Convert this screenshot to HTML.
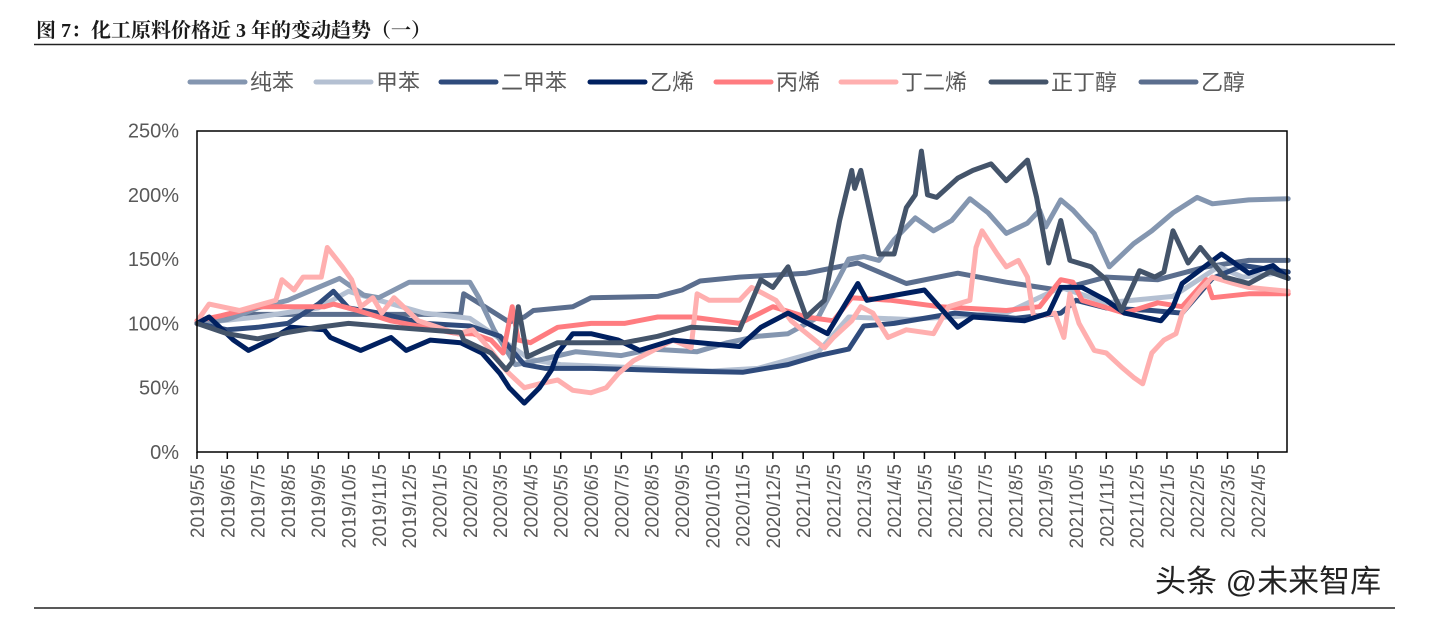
<!DOCTYPE html>
<html><head><meta charset="utf-8">
<style>
body{margin:0;background:#fff;width:1440px;height:615px;overflow:hidden;font-family:"Liberation Sans","Noto Sans CJK SC",sans-serif;}
</style></head><body>
<svg id="chart" width="1440" height="615" xmlns="http://www.w3.org/2000/svg">
<text x="36" y="37" font-size="20" font-weight="bold" fill="#1a1a1a" font-family="Liberation Serif, Noto Serif CJK SC, serif">图 7：化工原料价格近 3 年的变动趋势（一）</text>
<line x1="34" y1="44.5" x2="1395" y2="44.5" stroke="#222" stroke-width="1.5"/>
<line x1="34" y1="608" x2="1395" y2="608" stroke="#222" stroke-width="1.5"/>
<g id="legend"></g>
<g id="yaxis"></g>
<g id="xaxis"></g>
<g id="series"></g>
<rect x="197" y="131" width="1090" height="321" fill="none" stroke="#000" stroke-width="1.5"/>
<text x="1155" y="592" font-size="31" fill="#222" font-family="Liberation Sans, Noto Sans CJK SC, sans-serif">头条 @未来智库</text>
</svg>
<script>
const names=["纯苯","甲苯","二甲苯","乙烯","丙烯","丁二烯","正丁醇","乙醇"];
const colors=["#8496B0","#B4C0D2","#2F4B7C","#002060","#FF7C80","#FFAFAF","#44546A","#5B6E8E"];
const yTicks=[0,50,100,150,200,250];
const xLabels=[];
for(let i=0;i<36;i++){const y=2019+Math.floor((4+i)/12);const m=(4+i)%12+1;xLabels.push(y+"/"+m+"/5");}
// months since 2019/5/5
const m0=[0,1,2,3,4,4.7,5.5,6,7,9,9.3,9.8,10.5,11,12.5,14,15,16.5,17.5,18.5,19.5,20.5,21.5,22,22.5,23,23.7,24.3,24.9,25.5,26.1,26.7,27.4,27.8,28,28.5,28.9,29.6,30.1,30.9,31.5,32.2,33,33.5,34.7,36];
const v0=[100,103,112,118,128,135,122,120,132,132,120,95,68,70,78,75,80,78,85,90,92,105,150,152,149,165,182,172,180,197,186,170,178,188,175,196,188,170,144,162,172,186,198,193,196,197];
const m1=[0,2,4,5,6,7.5,9,10,11,12,14,17,18.5,20.5,21.5,23.5,26.7,28.5,30,32.2,33.7,34.5,36];
const v1=[100,105,112,125,118,108,104,88,72,68,66,63,65,78,105,103,108,128,116,121,144,136,140];
const m2=[0,1,2,3,4,4.5,5,6,7.5,9,10,10.8,11.5,13,16,18,19.5,20.5,21.5,22,23,25,27,28.5,29,30,31.5,32.5,33.5,34.5,36];
const v2=[100,95,97,100,115,125,112,108,100,98,90,68,65,65,63,62,68,75,80,98,100,108,104,108,118,112,110,108,135,145,140];
const m3=[0,0.4,1.2,1.7,2.4,3.1,4.2,4.4,5.4,6.4,6.9,7.7,8.7,9.4,10,10.3,10.8,11.3,11.7,11.9,12.4,13,13.9,14.6,15.7,16.6,17.9,18.6,19.5,20.8,21.8,22.1,24,25.1,25.6,27.3,28.1,28.5,29.2,30,30.6,31.8,32.2,32.5,33.8,34.7,35.5,36];
const v3=[100,105,87,79,87,97,95,89,79,89,79,87,85,77,61,50,38,50,64,77,92,92,87,79,87,85,82,97,108,92,131,118,126,97,105,102,108,128,128,118,108,102,113,131,154,139,145,135];
const m4=[0,0.8,2,4.2,4.5,5.3,6.4,7.5,8.6,9.1,9.7,10.1,10.4,10.6,11,11.9,13,14.1,15.2,16.3,17.9,19,20.1,21,21.6,22.9,24.5,26.7,27.8,28.5,28.9,29.2,30.6,31.7,32.5,33.3,33.5,34.7,36];
const v4=[102,106,113,113,115,110,102,97,92,92,87,77,113,87,85,97,100,100,105,105,100,113,105,102,120,118,113,110,113,134,132,118,108,116,113,134,120,123,123];
const m5=[0,0.1,0.4,1.4,2.6,2.8,3.2,3.5,4.1,4.3,4.8,5.1,5.4,5.8,6.1,6.5,7.3,8.6,9.1,9.7,10.1,10.3,10.8,11.3,11.9,12.4,13,13.5,13.9,14.4,15.7,16.3,16.5,16.9,17.9,18.3,19.1,19.6,20.7,21,21.6,21.9,22.3,22.8,23.4,24.3,24.8,25.5,25.7,25.9,26.4,26.7,27.1,27.4,27.6,28.3,28.6,28.8,29.1,29.6,30,30.5,30.9,31.2,31.5,31.9,32.3,32.5,33.1,33.5,34.2,34.7,36];
const v5=[100,105,115,110,118,134,126,136,136,159,144,134,113,120,108,120,102,92,95,79,66,61,50,53,56,48,46,50,61,71,87,81,123,118,118,128,118,102,81,89,102,113,108,89,95,92,113,118,159,172,154,144,149,136,105,108,89,123,100,79,77,66,58,53,77,87,92,108,126,136,131,128,125];
const m6=[0,1,2,3,4,5,7,8.7,8.8,9.7,10.2,10.4,10.6,10.9,11.9,14.1,15.2,16.3,17.9,18.6,19,19.5,20.1,20.7,21.2,21.6,21.7,21.9,22.5,23,23.4,23.7,23.9,24.1,24.4,25.1,25.6,26.2,26.7,27.4,27.7,28.1,28.5,28.8,29.5,30,30.5,31.1,31.6,31.9,32.2,32.7,33.1,33.9,34.7,35.4,36];
const v6=[100,92,88,93,97,100,96,93,87,77,64,70,113,74,85,85,90,97,95,134,128,144,105,118,180,219,205,219,154,154,190,200,234,200,198,213,219,224,211,227,198,147,180,149,144,134,110,141,136,140,172,147,159,136,131,140,135];
const m7=[0,1.1,8.7,8.8,9.5,10.3,10.8,11.1,12.4,13,15.2,16,16.6,17.9,20.1,21.8,23.4,25.1,26.7,28.4,30,31.7,33.3,34.7,36];
const v7=[100,107,107,123,113,101,105,110,113,120,121,126,133,136,139,147,131,139,132,126,136,134,144,149,149];
const allM=[m0,m1,m2,m3,m4,m5,m6,m7], allV=[v0,v1,v2,v3,v4,v5,v6,v7];
const NS="http://www.w3.org/2000/svg";
const X0=197, MW=30.31, Y0=452, PY=1.286;
const xs=m=>X0+m*MW, ys=v=>Y0-v*PY;
function mk(t,a,p){const e=document.createElementNS(NS,t);for(const k in a)e.setAttribute(k,a[k]);p.appendChild(e);return e;}
const fam="Liberation Sans, Noto Sans CJK SC, sans-serif";
// y axis
const ya=document.getElementById("yaxis");
yTicks.forEach(t=>{const e=mk("text",{x:179,y:ys(t)+7,"font-size":20,fill:"#595959","text-anchor":"end","font-family":fam},ya);e.textContent=t+"%";

});
// x axis
const xa=document.getElementById("xaxis");
xLabels.forEach((l,i)=>{const x=xs(i);
const tk=mk("line",{x1:x,y1:452,x2:x,y2:459,stroke:"#000","stroke-width":1.5},xa);


const e=mk("text",{transform:`translate(${x+7},${464}) rotate(-90)`,"font-size":19,fill:"#595959","text-anchor":"end","font-family":fam},xa);e.textContent=l;

});
// series
const sg=document.getElementById("series");
const order=[7,1,0,2,4,5,3,6];
order.forEach(s=>{const d=allM[s].map((m,i)=>(i?"L":"M")+xs(m).toFixed(1)+","+ys(allV[s][i]).toFixed(1)).join("");
const p=mk("path",{d:d,fill:"none",stroke:colors[s],"stroke-width":5,"stroke-linejoin":"round","stroke-linecap":"round"},sg);

});
// legend
const lg=document.getElementById("legend");
const lx=[190,316,441,590,716,841,991,1141];
names.forEach((n,i)=>{
const l=mk("line",{x1:lx[i],y1:82,x2:lx[i]+55,y2:82,stroke:colors[i],"stroke-width":5,"stroke-linecap":"round"},lg);


const t=mk("text",{x:lx[i]+60,y:90,"font-size":22,fill:"#595959","font-family":fam},lg);t.textContent=n;

});
</script>
</body></html>
